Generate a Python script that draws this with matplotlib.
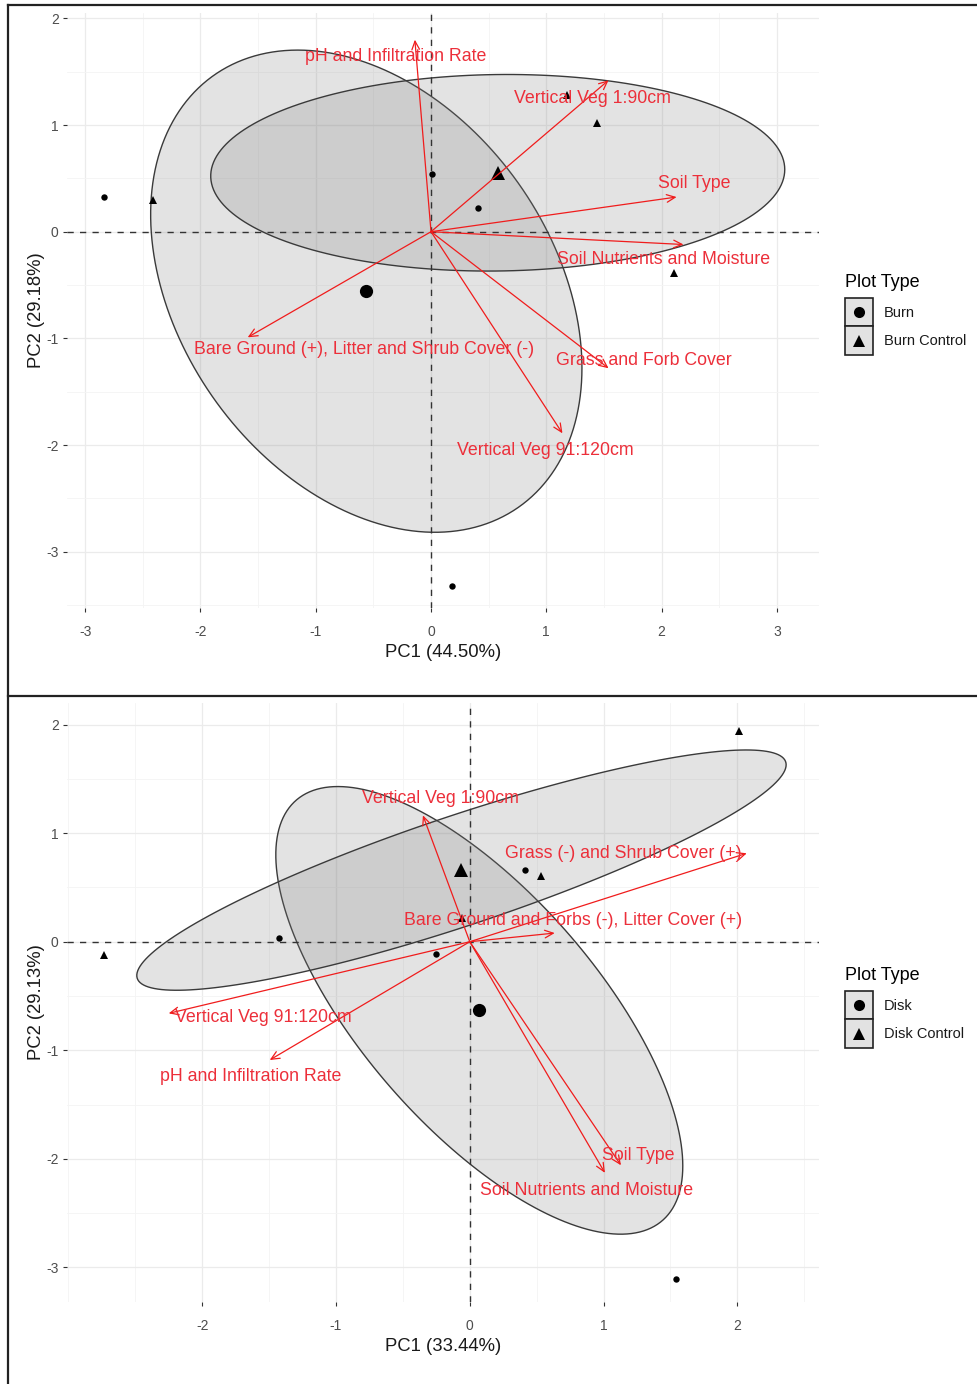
import numpy as np
import matplotlib
matplotlib.use('Agg')
import matplotlib.pyplot as plt
from matplotlib.lines import Line2D
from matplotlib.patches import Rectangle
from matplotlib.legend_handler import HandlerTuple, HandlerLine2D

plt.rcParams['font.family'] = ['Liberation Sans', 'DejaVu Sans']
plt.rcParams['axes.unicode_minus'] = False

# --- top panel: burn plots ---
burn_x = [-2.84, 0.005, 0.41, 0.18]
burn_y = [0.33, 0.54, 0.22, -3.32]
burn_ctrl_x = [-2.415, 1.18, 1.44, 2.11]
burn_ctrl_y = [0.30, 1.28, 1.02, -0.39]

burn_vars = ['pH and Infiltration Rate', 'Vertical Veg 1:90cm', 'Soil Type',
             'Soil Nutrients and Moisture', 'Grass and Forb Cover',
             'Vertical Veg 91:120cm', 'Bare Ground (+), Litter and Shrub Cover (-)']
burn_load_x = [-0.14, 1.54, 2.13, 2.19, 1.54, 1.14, -1.59]
burn_load_y = [1.80, 1.42, 0.325, -0.12, -1.28, -1.89, -0.99]
burn_lab_x = [-0.31, 1.40, 2.28, 2.02, 1.85, 0.99, -0.58]
burn_lab_y = [1.64, 1.25, 0.455, -0.265, -1.21, -2.05, -1.10]

# --- bottom panel: disk plots ---
disk_x = [-1.425, -0.25, 0.415, 1.545]
disk_y = [0.03, -0.11, 0.66, -3.11]
disk_ctrl_x = [2.01, -2.735, 0.533, -0.056]
disk_ctrl_y = [1.94, -0.125, 0.61, 0.215]

disk_vars = ['Vertical Veg 1:90cm', 'Grass (-) and Shrub Cover (+)',
             'Bare Ground and Forbs (-), Litter Cover (+)', 'Vertical Veg 91:120cm',
             'pH and Infiltration Rate', 'Soil Type', 'Soil Nutrients and Moisture']
disk_load_x = [-0.35, 2.07, 0.635, -2.25, -1.495, 1.13, 1.01]
disk_load_y = [1.165, 0.815, 0.08, -0.66, -1.09, -2.06, -2.13]
disk_lab_x = [-0.22, 1.15, 0.77, -1.54, -1.64, 1.26, 0.87]
disk_lab_y = [1.32, 0.815, 0.20, -0.70, -1.24, -1.97, -2.29]

RED_LINE = '#f01c1c'
RED_TEXT = '#ec2f3a'


class CenteredMarker(HandlerLine2D):
    # keep the legend marker in the middle of the grey key box
    def create_artists(self, legend, orig_handle, xdescent, ydescent, width,
                       height, fontsize, trans):
        arts = super().create_artists(legend, orig_handle, xdescent, ydescent,
                                      width, height, fontsize, trans)
        for a in arts:
            a.set_ydata(np.full(len(a.get_xdata()), height / 2 - ydescent))
        return arts


def conf_ellipse(x, y, level=0.95, n_pts=200):
    # confidence ellipse around the group mean (cov / n, chi-square radius)
    pts = np.column_stack([x, y])
    n = len(pts)
    center = pts.mean(axis=0)
    cov = np.cov(pts.T) / n
    r = np.sqrt(-2 * np.log(1 - level))
    L = np.linalg.cholesky(cov)
    t = np.linspace(0, 2 * np.pi, n_pts)
    circ = np.vstack([np.cos(t), np.sin(t)])
    ell = center[:, None] + r * (L @ circ)
    return ell[0], ell[1], center


def draw_panel(ax, groups, labels, load_x, load_y, lab_x, lab_y, var_names,
               xlabel, ylabel, xlim, ylim, xticks, yticks, legend_top):
    markers = ['o', '^']
    small = [4.6, 5.2]
    big = [9.5, 10.5]
    centers = []
    for (gx, gy), m in zip(groups, markers):
        ex, ey, c = conf_ellipse(gx, gy)
        ax.fill(ex, ey, facecolor=(0.5, 0.5, 0.5, 0.22), edgecolor='#3a3a3a',
                lw=1.0, zorder=2)
        centers.append(c)

    ax.axhline(0, color='#333333', lw=1.0, dashes=(4.5, 4.5), zorder=3)
    ax.axvline(0, color='#333333', lw=1.0, dashes=(4.5, 4.5), zorder=3)

    for (gx, gy), c, m, s, b in zip(groups, centers, markers, small, big):
        ax.plot(gx, gy, m, color='black', ms=s, mew=0, zorder=4)
        ax.plot(c[0], c[1], m, color='black', ms=b, mew=0, zorder=4)

    for lx, ly in zip(load_x, load_y):
        ax.annotate('', xy=(lx, ly), xytext=(0, 0), zorder=5,
                    arrowprops=dict(arrowstyle='->,head_length=0.55,head_width=0.25',
                                    color=RED_LINE, lw=0.9, shrinkA=0, shrinkB=0,
                                    mutation_scale=11))
    for tx, ty, name in zip(lab_x, lab_y, var_names):
        ax.text(tx, ty, name, color=RED_TEXT, fontsize=12.8, ha='center',
                va='center', zorder=6)

    ax.set_xlim(*xlim)
    ax.set_ylim(*ylim)
    ax.set_xticks(xticks)
    ax.set_yticks(yticks)
    ax.set_xticks(np.arange(np.ceil(xlim[0] * 2) / 2, xlim[1], 0.5), minor=True)
    ax.set_yticks(np.arange(np.ceil(ylim[0] * 2) / 2, ylim[1], 0.5), minor=True)
    ax.grid(which='major', color='#ebebeb', lw=0.9, zorder=0)
    ax.grid(which='minor', color='#f4f4f4', lw=0.6, zorder=0)
    ax.set_axisbelow(True)
    for sp in ax.spines.values():
        sp.set_visible(False)
    ax.tick_params(which='major', length=3, width=0.8, color='#333333',
                   labelcolor='#4d4d4d', labelsize=10)
    ax.tick_params(axis='x', which='major', pad=9)
    ax.tick_params(axis='y', which='major', pad=3)
    ax.tick_params(which='minor', length=0)
    ax.set_xlabel(xlabel, fontsize=13.3, color='#1a1a1a', labelpad=4)
    ax.set_ylabel(ylabel, fontsize=13.3, color='#1a1a1a', labelpad=1)

    handles = []
    for m in markers:
        box = Rectangle((0, 0), 1, 1, facecolor='#e2e2e2', edgecolor='#222222', lw=1.2)
        mk = Line2D([], [], ls='none', marker=m, color='black', ms=8, mew=0)
        handles.append((box, mk))
    leg = ax.legend(handles, labels, title='Plot Type', loc='upper left',
                    bbox_to_anchor=(845 / 978, 1 - legend_top / 1384),
                    bbox_transform=ax.figure.transFigure, frameon=False,
                    fontsize=10.5, title_fontsize=13, alignment='left',
                    handler_map={tuple: HandlerTuple(ndivide=1),
                                 Line2D: CenteredMarker()},
                    handlelength=1.95, handleheight=2.63, labelspacing=0,
                    handletextpad=0.7, borderpad=0, borderaxespad=0)
    leg._legend_box.sep = 5  # a bit of room between the title and the keys
    for txt in leg.get_texts():
        txt.set_color('#1a1a1a')


fig = plt.figure(figsize=(9.78, 13.84), dpi=100)
ax1 = fig.add_axes([67 / 978, 1 - 608 / 1384, 752 / 978, 595 / 1384])
ax2 = fig.add_axes([67 / 978, 1 - 1302 / 1384, 752 / 978, 599 / 1384])

draw_panel(ax1, [(burn_x, burn_y), (burn_ctrl_x, burn_ctrl_y)], ['Burn', 'Burn Control'],
           burn_load_x, burn_load_y, burn_lab_x, burn_lab_y, burn_vars,
           'PC1 (44.50%)', 'PC2 (29.18%)', (-3.157, 3.365), (-3.527, 2.05),
           [-3, -2, -1, 0, 1, 2, 3], [-3, -2, -1, 0, 1, 2], 274)
draw_panel(ax2, [(disk_x, disk_y), (disk_ctrl_x, disk_ctrl_y)], ['Disk', 'Disk Control'],
           disk_load_x, disk_load_y, disk_lab_x, disk_lab_y, disk_vars,
           'PC1 (33.44%)', 'PC2 (29.13%)', (-3.01, 2.61), (-3.32, 2.20),
           [-2, -1, 0, 1, 2], [-3, -2, -1, 0, 1, 2], 967)

# frames around the two stacked panels
def fig_line(x0, y0, x1, y1):
    fig.add_artist(Line2D([x0 / 978, x1 / 978], [1 - y0 / 1384, 1 - y1 / 1384],
                          color='#222222', lw=1.6, transform=fig.transFigure))

fig_line(8, 5, 978, 5)
fig_line(8, 5, 8, 1384)
fig_line(8, 696, 978, 696)

fig.savefig('out.png', dpi=100)
